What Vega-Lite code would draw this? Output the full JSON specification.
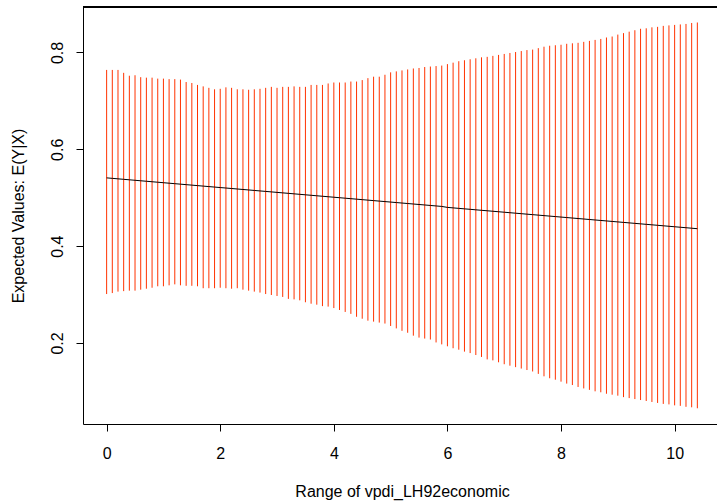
{
  "$schema": "https://vega.github.io/schema/vega-lite/v6.json",
  "width": 634,
  "height": 417,
  "autosize": {"type": "none"},
  "padding": {"left": 83, "top": 7, "right": 0, "bottom": 77},
  "background": "white",
  "config": {
    "view": {"stroke": null},
    "axis": {
      "grid": false,
      "domainColor": "black",
      "tickColor": "black",
      "labelColor": "black",
      "titleColor": "black",
      "labelFont": "Liberation Sans",
      "titleFont": "Liberation Sans",
      "labelFontSize": 16,
      "titleFontSize": 16,
      "titleFontWeight": "normal",
      "tickSize": 7,
      "domainWidth": 1,
      "tickWidth": 1
    }
  },
  "data": {
    "values": [
      {"x": 0.0, "hi": 0.764, "lo": 0.301, "m": 0.541},
      {"x": 0.1, "hi": 0.764, "lo": 0.303, "m": 0.540},
      {"x": 0.2, "hi": 0.764, "lo": 0.306, "m": 0.539},
      {"x": 0.3, "hi": 0.758, "lo": 0.307, "m": 0.538},
      {"x": 0.4, "hi": 0.752, "lo": 0.308, "m": 0.537},
      {"x": 0.5, "hi": 0.753, "lo": 0.308, "m": 0.536},
      {"x": 0.6, "hi": 0.749, "lo": 0.310, "m": 0.535},
      {"x": 0.7, "hi": 0.748, "lo": 0.312, "m": 0.534},
      {"x": 0.8, "hi": 0.748, "lo": 0.314, "m": 0.533},
      {"x": 0.9, "hi": 0.746, "lo": 0.317, "m": 0.532},
      {"x": 1.0, "hi": 0.746, "lo": 0.317, "m": 0.531},
      {"x": 1.1, "hi": 0.745, "lo": 0.319, "m": 0.530},
      {"x": 1.2, "hi": 0.745, "lo": 0.321, "m": 0.529},
      {"x": 1.3, "hi": 0.744, "lo": 0.319, "m": 0.528},
      {"x": 1.4, "hi": 0.739, "lo": 0.318, "m": 0.527},
      {"x": 1.5, "hi": 0.737, "lo": 0.318, "m": 0.526},
      {"x": 1.6, "hi": 0.733, "lo": 0.317, "m": 0.525},
      {"x": 1.7, "hi": 0.730, "lo": 0.313, "m": 0.524},
      {"x": 1.8, "hi": 0.727, "lo": 0.313, "m": 0.523},
      {"x": 1.9, "hi": 0.724, "lo": 0.313, "m": 0.522},
      {"x": 2.0, "hi": 0.725, "lo": 0.314, "m": 0.521},
      {"x": 2.1, "hi": 0.728, "lo": 0.313, "m": 0.520},
      {"x": 2.2, "hi": 0.727, "lo": 0.312, "m": 0.519},
      {"x": 2.3, "hi": 0.724, "lo": 0.313, "m": 0.518},
      {"x": 2.4, "hi": 0.724, "lo": 0.310, "m": 0.517},
      {"x": 2.5, "hi": 0.723, "lo": 0.308, "m": 0.516},
      {"x": 2.6, "hi": 0.724, "lo": 0.306, "m": 0.515},
      {"x": 2.7, "hi": 0.725, "lo": 0.304, "m": 0.514},
      {"x": 2.8, "hi": 0.727, "lo": 0.301, "m": 0.513},
      {"x": 2.9, "hi": 0.729, "lo": 0.299, "m": 0.512},
      {"x": 3.0, "hi": 0.727, "lo": 0.297, "m": 0.511},
      {"x": 3.1, "hi": 0.729, "lo": 0.295, "m": 0.510},
      {"x": 3.2, "hi": 0.729, "lo": 0.291, "m": 0.509},
      {"x": 3.3, "hi": 0.730, "lo": 0.290, "m": 0.508},
      {"x": 3.4, "hi": 0.729, "lo": 0.288, "m": 0.507},
      {"x": 3.5, "hi": 0.729, "lo": 0.284, "m": 0.506},
      {"x": 3.6, "hi": 0.733, "lo": 0.281, "m": 0.505},
      {"x": 3.7, "hi": 0.733, "lo": 0.279, "m": 0.504},
      {"x": 3.8, "hi": 0.733, "lo": 0.276, "m": 0.503},
      {"x": 3.9, "hi": 0.736, "lo": 0.275, "m": 0.502},
      {"x": 4.0, "hi": 0.738, "lo": 0.272, "m": 0.501},
      {"x": 4.1, "hi": 0.738, "lo": 0.268, "m": 0.500},
      {"x": 4.2, "hi": 0.738, "lo": 0.264, "m": 0.499},
      {"x": 4.3, "hi": 0.740, "lo": 0.260, "m": 0.498},
      {"x": 4.4, "hi": 0.740, "lo": 0.254, "m": 0.497},
      {"x": 4.5, "hi": 0.743, "lo": 0.250, "m": 0.496},
      {"x": 4.6, "hi": 0.747, "lo": 0.246, "m": 0.495},
      {"x": 4.7, "hi": 0.750, "lo": 0.244, "m": 0.494},
      {"x": 4.8, "hi": 0.750, "lo": 0.242, "m": 0.493},
      {"x": 4.9, "hi": 0.754, "lo": 0.240, "m": 0.492},
      {"x": 5.0, "hi": 0.759, "lo": 0.235, "m": 0.491},
      {"x": 5.1, "hi": 0.761, "lo": 0.230, "m": 0.490},
      {"x": 5.2, "hi": 0.763, "lo": 0.225, "m": 0.489},
      {"x": 5.3, "hi": 0.765, "lo": 0.221, "m": 0.488},
      {"x": 5.4, "hi": 0.767, "lo": 0.215, "m": 0.487},
      {"x": 5.5, "hi": 0.768, "lo": 0.211, "m": 0.486},
      {"x": 5.6, "hi": 0.770, "lo": 0.209, "m": 0.485},
      {"x": 5.7, "hi": 0.771, "lo": 0.207, "m": 0.484},
      {"x": 5.8, "hi": 0.772, "lo": 0.201, "m": 0.483},
      {"x": 5.9, "hi": 0.773, "lo": 0.197, "m": 0.482},
      {"x": 6.0, "hi": 0.776, "lo": 0.193, "m": 0.480},
      {"x": 6.1, "hi": 0.779, "lo": 0.189, "m": 0.479},
      {"x": 6.2, "hi": 0.782, "lo": 0.186, "m": 0.478},
      {"x": 6.3, "hi": 0.784, "lo": 0.182, "m": 0.477},
      {"x": 6.4, "hi": 0.786, "lo": 0.179, "m": 0.476},
      {"x": 6.5, "hi": 0.788, "lo": 0.175, "m": 0.475},
      {"x": 6.6, "hi": 0.790, "lo": 0.171, "m": 0.474},
      {"x": 6.7, "hi": 0.791, "lo": 0.166, "m": 0.473},
      {"x": 6.8, "hi": 0.793, "lo": 0.164, "m": 0.472},
      {"x": 6.9, "hi": 0.795, "lo": 0.160, "m": 0.471},
      {"x": 7.0, "hi": 0.797, "lo": 0.156, "m": 0.470},
      {"x": 7.1, "hi": 0.799, "lo": 0.153, "m": 0.469},
      {"x": 7.2, "hi": 0.801, "lo": 0.150, "m": 0.468},
      {"x": 7.3, "hi": 0.803, "lo": 0.147, "m": 0.467},
      {"x": 7.4, "hi": 0.805, "lo": 0.144, "m": 0.466},
      {"x": 7.5, "hi": 0.806, "lo": 0.141, "m": 0.465},
      {"x": 7.6, "hi": 0.809, "lo": 0.136, "m": 0.464},
      {"x": 7.7, "hi": 0.812, "lo": 0.131, "m": 0.463},
      {"x": 7.8, "hi": 0.814, "lo": 0.127, "m": 0.462},
      {"x": 7.9, "hi": 0.815, "lo": 0.124, "m": 0.461},
      {"x": 8.0, "hi": 0.816, "lo": 0.120, "m": 0.460},
      {"x": 8.1, "hi": 0.818, "lo": 0.116, "m": 0.459},
      {"x": 8.2, "hi": 0.819, "lo": 0.113, "m": 0.458},
      {"x": 8.3, "hi": 0.820, "lo": 0.109, "m": 0.457},
      {"x": 8.4, "hi": 0.822, "lo": 0.106, "m": 0.456},
      {"x": 8.5, "hi": 0.824, "lo": 0.103, "m": 0.455},
      {"x": 8.6, "hi": 0.826, "lo": 0.100, "m": 0.454},
      {"x": 8.7, "hi": 0.828, "lo": 0.098, "m": 0.453},
      {"x": 8.8, "hi": 0.831, "lo": 0.095, "m": 0.452},
      {"x": 8.9, "hi": 0.833, "lo": 0.093, "m": 0.451},
      {"x": 9.0, "hi": 0.837, "lo": 0.091, "m": 0.450},
      {"x": 9.1, "hi": 0.840, "lo": 0.088, "m": 0.449},
      {"x": 9.2, "hi": 0.843, "lo": 0.086, "m": 0.448},
      {"x": 9.3, "hi": 0.846, "lo": 0.084, "m": 0.447},
      {"x": 9.4, "hi": 0.849, "lo": 0.082, "m": 0.446},
      {"x": 9.5, "hi": 0.850, "lo": 0.080, "m": 0.445},
      {"x": 9.6, "hi": 0.852, "lo": 0.078, "m": 0.444},
      {"x": 9.7, "hi": 0.853, "lo": 0.076, "m": 0.443},
      {"x": 9.8, "hi": 0.855, "lo": 0.074, "m": 0.442},
      {"x": 9.9, "hi": 0.856, "lo": 0.073, "m": 0.441},
      {"x": 10.0, "hi": 0.857, "lo": 0.071, "m": 0.440},
      {"x": 10.1, "hi": 0.858, "lo": 0.070, "m": 0.439},
      {"x": 10.2, "hi": 0.859, "lo": 0.068, "m": 0.438},
      {"x": 10.3, "hi": 0.861, "lo": 0.067, "m": 0.437},
      {"x": 10.4, "hi": 0.862, "lo": 0.065, "m": 0.436}
    ]
  },
  "layer": [
    {
      "mark": {"type": "rule", "color": "#ff3300", "strokeWidth": 1},
      "encoding": {
        "x": {
          "field": "x",
          "type": "quantitative",
          "scale": {"domain": [-0.416, 10.746], "nice": false, "zero": false},
          "axis": {
            "title": "Range of vpdi_LH92economic",
            "values": [0, 2, 4, 6, 8, 10],
            "format": "d",
            "labelPadding": 14,
            "labelFlush": false,
            "labelOverlap": false,
            "titleBaseline": "alphabetic",
            "titleX": 319,
            "titleY": 72
          }
        },
        "y": {
          "field": "lo",
          "type": "quantitative",
          "scale": {"domain": [0.0325, 0.894], "nice": false, "zero": false},
          "axis": {
            "title": "Expected Values: E(Y|X)",
            "values": [0.2, 0.4, 0.6, 0.8],
            "format": ".1f",
            "labelAngle": -90,
            "labelAlign": "center",
            "labelBaseline": "alphabetic",
            "labelPadding": 14,
            "labelFlush": false,
            "titleAngle": -90,
            "titleBaseline": "alphabetic",
            "titleX": -60,
            "titleY": 208.5
          }
        },
        "y2": {"field": "hi"}
      }
    },
    {
      "mark": {"type": "line", "color": "black", "strokeWidth": 1},
      "encoding": {
        "x": {"field": "x", "type": "quantitative"},
        "y": {"field": "m", "type": "quantitative"}
      }
    },
    {
      "mark": {"type": "rule", "color": "black", "strokeWidth": 1},
      "encoding": {"y": {"datum": 0.894}}
    }
  ]
}
